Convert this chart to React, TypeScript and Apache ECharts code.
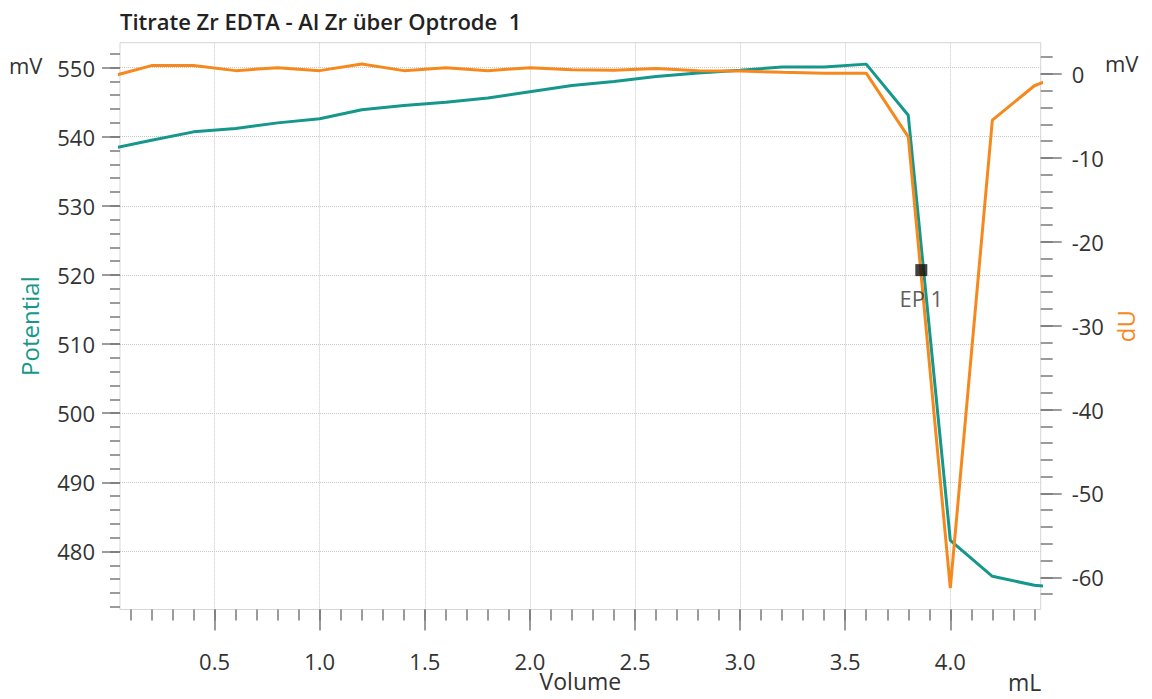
import React, { useEffect, useRef } from "react";
import * as echarts from "echarts";

// ---- data ----
const volume = [0.0, 0.2, 0.4, 0.6, 0.8, 1.0, 1.2, 1.4, 1.6, 1.8, 2.0, 2.2, 2.4, 2.6, 2.8, 3.0, 3.2, 3.4, 3.6, 3.8, 4.0, 4.2, 4.4, 4.6];
const potential = [538.2, 539.5, 540.7, 541.2, 542.0, 542.6, 543.9, 544.5, 545.0, 545.6, 546.5, 547.4, 548.0, 548.7, 549.2, 549.6, 550.1, 550.1, 550.5, 543.1, 481.6, 476.4, 475.1, 474.6];
const dU = [-0.35, 1.0, 1.0, 0.4, 0.75, 0.4, 1.2, 0.4, 0.75, 0.4, 0.75, 0.5, 0.45, 0.65, 0.4, 0.35, 0.2, 0.1, 0.1, -7.5, -61.3, -5.5, -1.4, 0.6];
const epPoint = [3.862, 520.7];
const epLabel = "EP 1";

const xMajorTicks = [0.5, 1.0, 1.5, 2.0, 2.5, 3.0, 3.5, 4.0];
const leftMajorTicks = [480, 490, 500, 510, 520, 530, 540, 550];
const rightMajorTicks = [-60, -50, -40, -30, -20, -10, 0];

const range = (a: number, b: number, step: number) => {
  const out: number[] = [];
  const n = Math.round((b - a) / step);
  for (let i = 0; i <= n; i++) out.push(Math.round((a + i * step) * 1000) / 1000);
  return out;
};
const xMinorTicks = range(0.1, 4.4, 0.1);
const leftMinorTicks = range(472, 552, 2);
const rightMinorTicks = range(-62, 2, 2);

const X_MIN = 0.05, X_MAX = 4.43;
const L_MIN = 471.6, L_MAX = 553.6;
const R_MIN = -63.84, R_MAX = 3.73;

const TEAL = "#16978b";
const ORANGE = "#f5891e";
const FONT = "Open Sans";
const TICK = "#7a7a7a";
const LABEL = "#333333";

export default function App() {
  const ref = useRef<HTMLDivElement>(null);
  useEffect(() => {
    if (!ref.current) return;
    const chart = echarts.init(ref.current, undefined, { renderer: "svg" });
    const tickStyle = { color: TICK, width: 1.5 };
    const option: any = {
      animation: false,
      backgroundColor: "#ffffff",
      textStyle: { fontFamily: FONT },
      title: {
        text: "Titrate Zr EDTA - Al Zr über Optrode  1",
        left: 115,
        top: 5,
        textStyle: { fontFamily: FONT, fontSize: 22, fontWeight: 600, color: "#222" },
      },
      grid: {
        left: 120,
        right: 1152 - 1040.7,
        top: 42.7,
        bottom: 699 - 609.5,
        show: true,
        borderColor: "#d6d6d6",
        borderWidth: 1,
        containLabel: false,
        outerBoundsMode: "none",
      },
      xAxis: [
        {
          type: "value",
          min: X_MIN,
          max: X_MAX,
          position: "bottom",
          axisLine: { show: false, onZero: false },
          axisTick: { show: true, customValues: xMajorTicks, length: 21, lineStyle: tickStyle },
          axisLabel: {
            customValues: xMajorTicks,
            margin: 40,
            fontSize: 22,
            color: LABEL,
            fontFamily: FONT,
            formatter: (v: number) => v.toFixed(1),
          },
          splitLine: { show: true, lineStyle: { type: "dotted", color: "#c8c8c8", width: 1 } },
          name: "Volume",
          nameLocation: "middle",
          nameGap: 60,
          nameMoveOverlap: false,
          nameTextStyle: { fontSize: 23, color: LABEL, fontFamily: FONT },
        },
        {
          type: "value",
          min: X_MIN,
          max: X_MAX,
          position: "bottom",
          axisLine: { show: false, onZero: false },
          axisTick: { show: true, customValues: xMinorTicks, length: 11, lineStyle: tickStyle },
          axisLabel: { show: false },
          splitLine: { show: false },
        },
      ],
      yAxis: [
        {
          type: "value",
          min: L_MIN,
          max: L_MAX,
          position: "left",
          axisLine: { show: false, onZero: false },
          axisTick: { show: true, customValues: leftMajorTicks, length: 18, lineStyle: tickStyle },
          axisLabel: { customValues: leftMajorTicks, margin: 25, fontSize: 22, color: LABEL, fontFamily: FONT },
          splitLine: { show: true, lineStyle: { type: "dotted", color: "#c8c8c8", width: 1 } },
          name: "Potential",
          nameLocation: "middle",
          nameGap: 79,
          nameMoveOverlap: false,
          nameTextStyle: { fontSize: 24, color: TEAL, fontFamily: FONT },
        },
        {
          type: "value",
          min: L_MIN,
          max: L_MAX,
          position: "left",
          axisLine: { show: false, onZero: false },
          axisTick: { show: true, customValues: leftMinorTicks, length: 10, lineStyle: tickStyle },
          axisLabel: { show: false },
          splitLine: { show: false },
        },
        {
          type: "value",
          min: R_MIN,
          max: R_MAX,
          position: "right",
          axisLine: { show: false, onZero: false },
          axisTick: { show: true, customValues: rightMajorTicks, length: 21, lineStyle: tickStyle },
          axisLabel: { customValues: rightMajorTicks, margin: 31, fontSize: 22, color: LABEL, fontFamily: FONT },
          splitLine: { show: false },
          name: "dU",
          nameLocation: "middle",
          nameGap: 73,
          nameMoveOverlap: false,
          nameTextStyle: { fontSize: 24, color: ORANGE, fontFamily: FONT },
        },
        {
          type: "value",
          min: R_MIN,
          max: R_MAX,
          position: "right",
          axisLine: { show: false, onZero: false },
          axisTick: { show: true, customValues: rightMinorTicks, length: 12, lineStyle: tickStyle },
          axisLabel: { show: false },
          splitLine: { show: false },
        },
      ],
      graphic: [
        { type: "text", left: 9, top: 54, style: { text: "mV", fontSize: 22, fill: LABEL, fontFamily: FONT } },
        { type: "text", left: 1105, top: 52, style: { text: "mV", fontSize: 22, fill: LABEL, fontFamily: FONT } },
        { type: "text", left: 1008, top: 670, style: { text: "mL", fontSize: 23, fill: LABEL, fontFamily: FONT } },
      ],
      series: [
        {
          type: "line",
          name: "Potential",
          xAxisIndex: 0,
          yAxisIndex: 0,
          data: volume.map((x, i) => [x, potential[i]]),
          symbol: "none",
          lineStyle: { color: TEAL, width: 3 },
          itemStyle: { color: TEAL },
          z: 3,
        },
        {
          type: "line",
          name: "dU",
          xAxisIndex: 0,
          yAxisIndex: 2,
          data: volume.map((x, i) => [x, dU[i]]),
          symbol: "none",
          lineStyle: { color: ORANGE, width: 3 },
          itemStyle: { color: ORANGE },
          z: 4,
        },
        {
          type: "scatter",
          name: "EP",
          xAxisIndex: 0,
          yAxisIndex: 0,
          data: [epPoint],
          symbol: "rect",
          symbolSize: 12,
          itemStyle: { color: "#111" },
          label: {
            show: true,
            position: "bottom",
            distance: 11,
            formatter: epLabel,
            fontSize: 22,
            color: LABEL,
            fontFamily: FONT,
          },
          z: 5,
        },
      ],
    };
    chart.setOption(option);
    return () => chart.dispose();
  }, []);
  return <div ref={ref} style={{ position: "absolute", left: 0, top: 0, width: 1152, height: 699 }} />;
}
